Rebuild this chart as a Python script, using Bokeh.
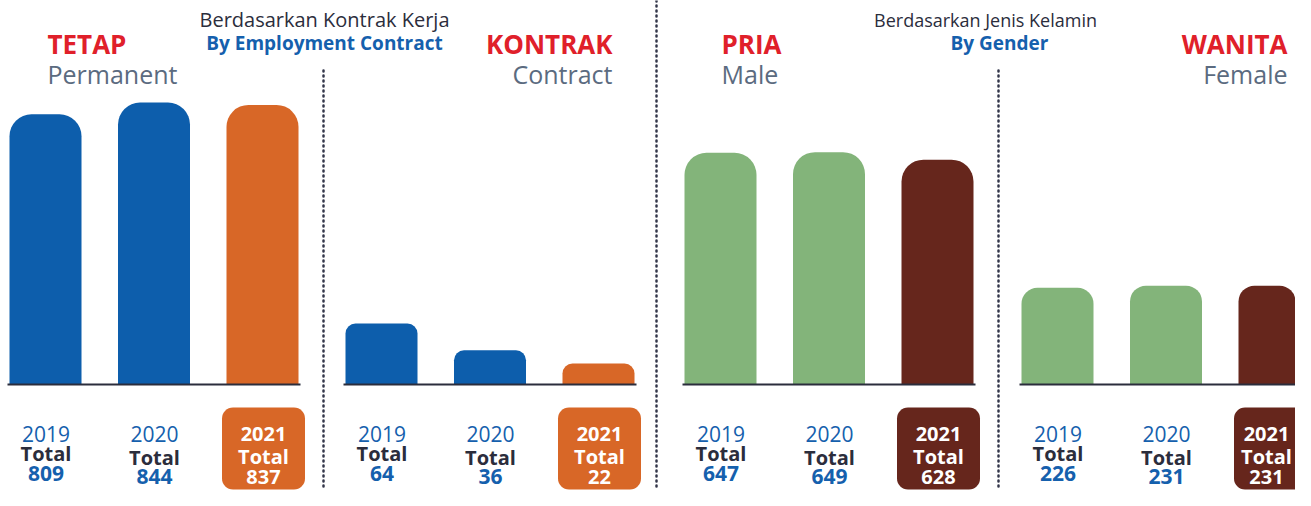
from bokeh.plotting import figure
from bokeh.models import Range1d
from bokeh.core.properties import value
from bokeh.embed import file_html
from bokeh.resources import INLINE

# ---------------- data ----------------
years = ["2019", "2020", "2021"]
tetap = [809, 844, 837]
kontrak = [64, 36, 22]
pria = [647, 649, 628]
wanita = [226, 231, 231]

panel_id = ["TETAP", "KONTRAK", "PRIA", "WANITA"]
panel_en = ["Permanent", "Contract", "Male", "Female"]
group_id = ["Berdasarkan Kontrak Kerja", "Berdasarkan Jenis Kelamin"]
group_en = ["By Employment Contract", "By Gender"]
total_word = "Total"

# ---------------- style / layout ----------------
FONT = value("Open Sans")
BLUE = "#0d5eac"
ORANGE = "#d86727"
GREEN = "#83b47a"
BROWN = "#66261c"
RED = "#e0202a"
GREY = "#5b6b80"
DARK = "#2b2d3c"
TXTBLUE = "#1560ad"
DOT = "#33364a"

W, H = 1295, 490
BASE = 384               # baseline (px from top)

p = figure(width=W, height=H, output_backend="svg", toolbar_location=None,
           x_range=Range1d(0, W), y_range=Range1d(H, 0),
           x_axis_location=None, y_axis_location=None, min_border=0,
           tools="")
p.grid.visible = False
p.outline_line_color = None
p.background_fill_color = "white"
p.border_fill_color = "white"

panels = [
    dict(vals=tetap, x0=45, scale=0.334, colors=[BLUE, BLUE, ORANGE], radius=22,
         box=ORANGE, align="left", tx=47, boxtx=0),
    dict(vals=kontrak, x0=381, scale=0.952, colors=[BLUE, BLUE, ORANGE], radius=10,
         box=ORANGE, align="right", tx=612, boxtx=0),
    dict(vals=pria, x0=720, scale=0.358, colors=[GREEN, GREEN, BROWN], radius=22,
         box=BROWN, align="left", tx=721, boxtx=0),
    dict(vals=wanita, x0=1057, scale=0.428, colors=[GREEN, GREEN, BROWN], radius=16,
         box=BROWN, align="right", tx=1287, boxtx=-9),
]
STEP = 108.5
BAR_W = 72

for k, pn in enumerate(panels):
    s = pn["scale"]
    start = -(H - BASE) / s
    end = BASE / s
    name = f"r{k}"
    p.extra_y_ranges[name] = Range1d(start, end)
    xs = [pn["x0"] + i * STEP for i in range(len(years))]
    p.vbar(x=xs, top=pn["vals"], bottom=0, width=BAR_W, fill_color=pn["colors"],
           line_color=None, y_range_name=name, border_radius=(pn["radius"], pn["radius"], 0, 0))
    # baseline
    p.segment(x0=[xs[0] - BAR_W / 2 - 2], x1=[xs[-1] + BAR_W / 2 + 2], y0=[BASE], y1=[BASE],
              line_color=DARK, line_width=2)
    # highlight box for latest year
    bx = xs[-1] + 1
    p.quad(left=[bx - 41.5], right=[bx + 41.5], top=[407], bottom=[489],
           fill_color=pn["box"], line_color=None, border_radius=11)
    # labels under bars
    yr_y = [433, 433, 433]
    tot_y = [453, 457, 456]
    val_y = [473, 476, 476]
    lx = [x + 0.5 for x in xs]
    p.text(x=lx[:2], y=yr_y[:2], text=years[:2], text_font=FONT, text_font_size="21px",
           text_color=TXTBLUE, text_align="center", text_baseline="middle")
    p.text(x=lx[:2], y=tot_y[:2], text=[total_word] * 2, text_font=FONT, text_font_size="20px",
           text_font_style="bold", text_color=DARK, text_align="center", text_baseline="middle")
    p.text(x=lx[:2], y=val_y[:2], text=[str(v) for v in pn["vals"][:2]], text_font=FONT,
           text_font_size="21px", text_font_style="bold", text_color=TXTBLUE,
           text_align="center", text_baseline="middle")
    tbx = bx + pn["boxtx"]
    p.text(x=[tbx, tbx, tbx], y=[yr_y[2], tot_y[2], val_y[2]],
           text=[years[2], total_word, str(pn["vals"][2])], text_font=FONT,
           text_font_size="20px", text_font_style="bold", text_color="white",
           text_align="center", text_baseline="middle")
    # panel headings
    p.text(x=[pn["tx"]], y=[43], text=[panel_id[k]], text_font=FONT, text_font_size="26px",
           text_font_style="bold", text_color=RED, text_align=pn["align"], text_baseline="middle")
    p.text(x=[pn["tx"]], y=[73], text=[panel_en[k]], text_font=FONT, text_font_size="25px",
           text_color=GREY, text_align=pn["align"], text_baseline="middle")

# group headings
p.text(x=[324], y=[19], text=[group_id[0]], text_font=FONT, text_font_size="20px",
       text_color=DARK, text_align="center", text_baseline="middle")
p.text(x=[985], y=[19], text=[group_id[1]], text_font=FONT, text_font_size="18px",
       text_color=DARK, text_align="center", text_baseline="middle")
p.text(x=[324, 999], y=[42, 42], text=group_en, text_font=FONT, text_font_size="19px",
       text_font_style="bold", text_color=TXTBLUE, text_align="center", text_baseline="middle")

# dotted separators
p.segment(x0=[656, 323, 998], x1=[656, 323, 998], y0=[0, 70, 70], y1=[H, H, H],
          line_color=DOT, line_width=2.5, line_dash="1 4", line_cap="round")

open("out.html", "w").write(file_html(p, INLINE))
